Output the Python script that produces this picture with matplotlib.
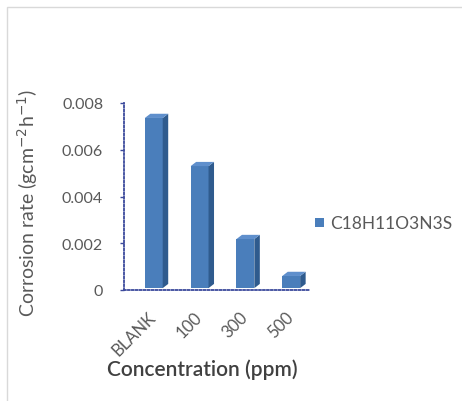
import matplotlib.pyplot as plt
import matplotlib.transforms as mtransforms
from matplotlib.patches import Polygon, Rectangle

plt.rcParams['font.family'] = ['Lato', 'DejaVu Sans']

# data
categories = ['BLANK', '100', '300', '500']
corrosion_rate = [0.00736, 0.0053, 0.00218, 0.0006]
series_name = 'C18H11O3N3S'

front = '#4A7EBB'
side = '#2F5B8E'
top = '#5F8FCC'
axis_col = '#3C4A9C'
txt = '#595959'

fig = plt.figure(figsize=(4.62, 4.02), dpi=100)
fig.patch.set_facecolor('white')
# faint chart border
fig.patches.append(Rectangle((7 / 462, -0.01), 1.0, 1 - 8 / 402 + 0.01, transform=fig.transFigure,
                             fill=False, edgecolor='#D9D9D9', linewidth=1.0))

ax = fig.add_axes([124 / 462, 111 / 402, 186 / 462, 187 / 402])

w = 0.39
dx, dy = 0.12, 0.00018  # fake 3d depth
for i, v in enumerate(corrosion_rate):
    x0, x1 = i - w / 2, i + w / 2
    ax.add_patch(Rectangle((x0, 0.00008), w, v - 0.00008, facecolor=front, edgecolor='none', zorder=3))
    ax.add_patch(Polygon([(x1, 0.00008), (x1 + dx, 0.00008 + dy), (x1 + dx, v + dy), (x1, v)],
                         closed=True, facecolor=side, edgecolor='none', zorder=3))
    ax.add_patch(Polygon([(x0, v), (x0 + dx, v + dy), (x1 + dx, v + dy), (x1, v)],
                         closed=True, facecolor=top, edgecolor='none', zorder=3))

ax.set_xlim(-0.65, 3.41)
ax.set_ylim(0, 0.008)
ax.set_yticks([0, 0.002, 0.004, 0.006, 0.008])
ax.set_yticklabels(['0', '0.002', '0.004', '0.006', '0.008'])
ax.set_xticks(range(len(categories)))
ax.set_xticklabels(categories, rotation=45, ha='right', rotation_mode='anchor')
ax.tick_params(axis='x', length=0, pad=13, labelsize=12, labelcolor=txt)
ax.tick_params(axis='y', length=3, width=1, color=axis_col, pad=12, labelsize=11.5, labelcolor=txt)
shift = mtransforms.ScaledTranslation(-6 / 100, 0, fig.dpi_scale_trans)
for lab in ax.get_xticklabels():
    lab.set_transform(lab.get_transform() + shift)

for s in ['top', 'right']:
    ax.spines[s].set_visible(False)
for s in ['left', 'bottom']:
    ax.spines[s].set_color(axis_col)
    ax.spines[s].set_linestyle((0, (1, 1.2)))
    ax.spines[s].set_linewidth(1.3)

ax.set_ylabel('Corrosion rate (gcm$^{-2}$h$^{-1}$)', fontsize=14, color=txt, va='center')
ax.yaxis.set_label_coords(-0.52, 0.47)
ax.set_xlabel('Concentration (ppm)', fontsize=15, color='#404040', fontweight='semibold', va='center')
ax.xaxis.set_label_coords(0.42, -0.42)

# legend
fig.patches.append(Rectangle((315 / 462, 1 - 228 / 402), 9 / 462, 9 / 402, transform=fig.transFigure,
                             facecolor=front, edgecolor='none'))
fig.text(330 / 462, 1 - 224 / 402, series_name, fontsize=12.5, color=txt, va='center', ha='left')

fig.savefig('out.png', dpi=100)
